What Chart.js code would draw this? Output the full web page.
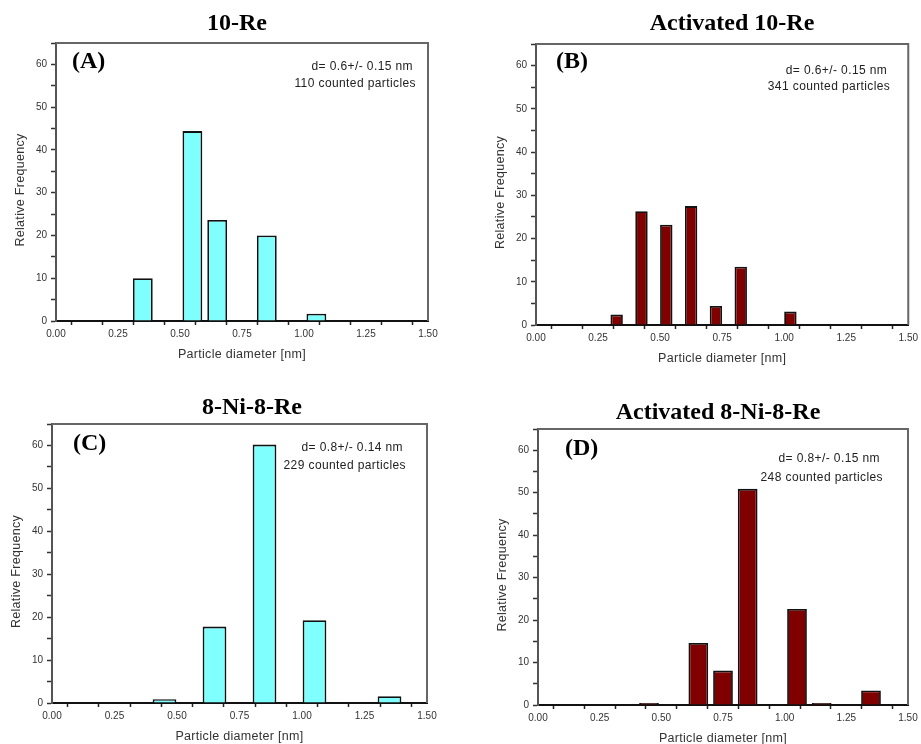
<!DOCTYPE html>
<html>
<head>
<meta charset="utf-8">
<script src="https://cdn.jsdelivr.net/npm/chart.js@4/dist/chart.umd.min.js"></script>
<style>
  body { margin: 0; background: #fff; }
  #page { position: relative; width: 921px; height: 744px; overflow: hidden; }
  .panel { position: absolute; }
</style>
</head>
<body>
<div id="page">
  <div class="panel" style="left:0;top:0;width:460px;height:372px"><canvas id="chartA"></canvas></div>
  <div class="panel" style="left:460px;top:0;width:461px;height:372px"><canvas id="chartB"></canvas></div>
  <div class="panel" style="left:0;top:380px;width:460px;height:364px"><canvas id="chartC"></canvas></div>
  <div class="panel" style="left:460px;top:380px;width:461px;height:364px"><canvas id="chartD"></canvas></div>
</div>
<script>
// bin centres (nm) and relative frequency (%)
var diamA = [0.35, 0.45, 0.55, 0.65, 0.75, 0.85, 0.95, 1.05];
var freqA = [10, 0, 44.4, 23.6, 0, 20, 0, 1.7];

var diamB = [0.325, 0.425, 0.525, 0.625, 0.725, 0.825, 0.925, 1.025];
var freqB = [2.4, 26.3, 23.2, 27.5, 4.4, 13.5, 0, 3.1];

var diamC = [0.45, 0.55, 0.65, 0.75, 0.85, 0.95, 1.05, 1.15, 1.25, 1.35];
var freqC = [0.9, 0, 17.8, 0, 60.2, 0, 19.3, 0, 0, 1.6];

var diamD = [0.45, 0.55, 0.65, 0.75, 0.85, 0.95, 1.05, 1.15, 1.25, 1.35];
var freqD = [0.5, 0, 14.6, 8.1, 50.9, 0, 22.6, 0.5, 0, 3.4];

var titles = ["10-Re", "Activated 10-Re", "8-Ni-8-Re", "Activated 8-Ni-8-Re"];
var panelLabels = ["(A)", "(B)", "(C)", "(D)"];
var notes = [
  ["d= 0.6+/- 0.15 nm", "110 counted particles"],
  ["d= 0.6+/- 0.15 nm", "341 counted particles"],
  ["d= 0.8+/- 0.14 nm", "229 counted particles"],
  ["d= 0.8+/- 0.15 nm", "248 counted particles"]
];
var xMin = 0, xMax = 1.5, xStep = 0.125;
var yMin = 0, yMax = 65, yStep = 5;
var xTitle = "Particle diameter [nm]";
var yTitle = "Relative Frequency";

var cyan = "#80ffff";
var darkRed = "#800000";

// layout of each panel (plot box inside its canvas, text offsets)
var layouts = [
  { L: 56, T: 43, R: 32, B: 51, titleX: 237, titleY: 24, lab: [16, 19], note: [12, 24, 41], color: cyan, bar: 0.8 },
  { L: 76, T: 44, R: 9,  B: 47, titleX: 272, titleY: 24, lab: [20, 18], note: [18, 27, 43], color: darkRed, bar: 0.5 },
  { L: 52, T: 44, R: 33, B: 41, titleX: 252, titleY: 28, lab: [21, 20], note: [21, 24, 42], color: cyan, bar: 0.95 },
  { L: 78, T: 49, R: 13, B: 39, titleX: 258, titleY: 33, lab: [27, 20], note: [25, 30, 49], color: darkRed, bar: 0.8 }
];

var panelText = {
  id: 'panelText',
  afterDraw: function(chart, args, o) {
    var ctx = chart.ctx, a = chart.chartArea;
    ctx.save();
    // top / right frame
    ctx.strokeStyle = '#666';
    ctx.lineWidth = 2;
    ctx.beginPath();
    ctx.moveTo(a.left, a.top);
    ctx.lineTo(a.right, a.top);
    ctx.lineTo(a.right, a.bottom);
    ctx.stroke();

    ctx.fillStyle = '#000';
    ctx.textBaseline = 'middle';
    ctx.textAlign = 'center';
    ctx.font = 'bold 24px "Liberation Serif", "Times New Roman", serif';
    ctx.fillText(o.title, o.lay.titleX, o.lay.titleY);

    ctx.textAlign = 'left';
    ctx.font = 'bold 24px "Liberation Serif", "Times New Roman", serif';
    ctx.fillText(o.label, a.left + o.lay.lab[0], a.top + o.lay.lab[1]);

    ctx.textAlign = 'right';
    ctx.fillStyle = '#222';
    ctx.font = '12px "Liberation Sans", Arial, sans-serif';
    ctx.letterSpacing = '0.4px';
    ctx.fillText(o.notes[0], a.right - o.lay.note[0] - 3, a.top + o.lay.note[1]);
    ctx.fillText(o.notes[1], a.right - o.lay.note[0], a.top + o.lay.note[2]);

    // axis titles
    ctx.fillStyle = '#333';
    ctx.font = '12.5px "Liberation Sans", Arial, sans-serif';
    ctx.letterSpacing = '0.3px';
    ctx.textAlign = 'center';
    ctx.fillText(xTitle, (a.left + a.right) / 2, a.bottom + 34);
    ctx.translate(a.left - 35, (a.top + a.bottom) / 2 + 8);
    ctx.rotate(-Math.PI / 2);
    ctx.fillText(yTitle, 0, 0);
    ctx.restore();
  }
};

function makeChart(id, xs, ys, i) {
  var lay = layouts[i];
  var pts = xs.map(function(x, k) { return { x: x, y: ys[k] }; });
  var el = document.getElementById(id);
  return new Chart(el, {
    type: 'bar',
    data: {
      datasets: [{
        data: pts,
        backgroundColor: lay.color,
        borderColor: '#111',
        borderWidth: 1.8,
        barPercentage: lay.bar,
        categoryPercentage: 1
      }]
    },
    options: {
      responsive: true,
      maintainAspectRatio: false,
      animation: false,
      layout: { padding: { left: 0, top: lay.T, right: lay.R, bottom: 0 } },
      plugins: {
        legend: { display: false },
        tooltip: { enabled: false },
        panelText: { title: titles[i], label: panelLabels[i], notes: notes[i], lay: lay }
      },
      scales: {
        x: {
          type: 'linear',
          offset: false,
          min: xMin, max: xMax,
          afterFit: function(s) { s.height = lay.B; },
          border: { display: true, color: '#111', width: 2 },
          grid: { drawOnChartArea: false, drawTicks: true, tickLength: 4, tickColor: '#222', tickWidth: 1.5 },
          ticks: {
            stepSize: xStep,
            autoSkip: false,
            maxRotation: 0,
            padding: 3,
            color: '#333',
            font: { family: '"Liberation Sans", Arial, sans-serif', size: 10 },
            callback: function(v) {
              var q = v / 0.25;
              return Math.abs(q - Math.round(q)) < 1e-6 ? v.toFixed(2) : '';
            }
          }
        },
        y: {
          min: yMin, max: yMax,
          afterFit: function(s) { s.width = lay.L; },
          border: { display: true, color: '#555', width: 2 },
          grid: { drawOnChartArea: false, drawTicks: true, tickLength: 5, tickColor: '#333', tickWidth: 1.5 },
          ticks: {
            stepSize: yStep,
            autoSkip: false,
            padding: 4,
            color: '#333',
            font: { family: '"Liberation Sans", Arial, sans-serif', size: 10 },
            callback: function(v) { return (v % 10 === 0 && v <= 60) ? v : ''; }
          }
        }
      }
    },
    plugins: [panelText]
  });
}

makeChart('chartA', diamA, freqA, 0);
makeChart('chartB', diamB, freqB, 1);
makeChart('chartC', diamC, freqC, 2);
makeChart('chartD', diamD, freqD, 3);
</script>
</body>
</html>
